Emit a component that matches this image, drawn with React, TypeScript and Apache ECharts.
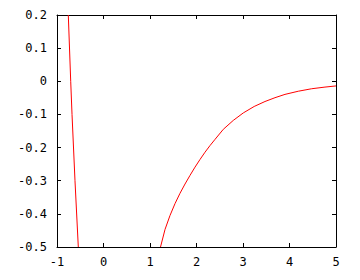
import React, { useEffect, useRef } from "react";
import * as echarts from "echarts";

const xTicks = { min: -1, max: 5, interval: 1 };
const yTicks = { min: -0.5, max: 0.2, interval: 0.1 };

const leftBranchX = [-0.757, -0.705, -0.677, -0.613, -0.542];
const leftBranchY = [0.2, 0.0, -0.1, -0.3, -0.5];

const rightBranchX = [1.226, 1.323, 1.43, 1.538, 1.645, 1.753, 1.86, 1.968, 2.075, 2.183, 2.29, 2.4, 2.576, 2.791, 3.006, 3.24, 3.473, 3.688, 3.903, 4.189, 4.477, 4.763, 5.0];
const rightBranchY = [-0.5, -0.447, -0.405, -0.369, -0.338, -0.31, -0.284, -0.259, -0.236, -0.214, -0.194, -0.175, -0.145, -0.118, -0.0955, -0.076, -0.061, -0.0495, -0.0395, -0.03, -0.0225, -0.0175, -0.014];

const zip = (xs: number[], ys: number[]) => xs.map((x, i) => [x, ys[i]]);

export default function App() {
  const ref = useRef<HTMLDivElement>(null);
  useEffect(() => {
    if (!ref.current) return;
    const chart = echarts.init(ref.current, undefined, { renderer: "svg" });
    const font = { fontFamily: "DejaVu Sans Mono", fontSize: 12, color: "#000" };
    const axisLine = { show: true, onZero: false, lineStyle: { color: "#000", width: 1 } };
    const tick = { show: true, inside: true, length: 4, lineStyle: { color: "#000", width: 1 } };
    const fmt = (v: number) => String(Math.round(v * 10) / 10);
    chart.setOption({
      animation: false,
      grid: { left: 57, right: 24, top: 15, bottom: 33 },
      xAxis: [
        {
          type: "value", ...xTicks, position: "bottom",
          axisLine, axisTick: tick, splitLine: { show: false },
          axisLabel: { ...font, margin: 9, formatter: fmt },
        },
        {
          type: "value", ...xTicks, position: "top",
          axisLine, axisTick: tick, splitLine: { show: false },
          axisLabel: { show: false },
        },
      ],
      yAxis: [
        {
          type: "value", ...yTicks, position: "left",
          axisLine, axisTick: tick, splitLine: { show: false },
          axisLabel: { ...font, margin: 10, formatter: fmt },
        },
        {
          type: "value", ...yTicks, position: "right",
          axisLine, axisTick: tick, splitLine: { show: false },
          axisLabel: { show: false },
        },
      ],
      series: [
        {
          type: "line", data: zip(leftBranchX, leftBranchY), showSymbol: false,
          lineStyle: { color: "#ff0000", width: 1 }, itemStyle: { color: "#ff0000" }, clip: true,
        },
        {
          type: "line", data: zip(rightBranchX, rightBranchY), showSymbol: false,
          lineStyle: { color: "#ff0000", width: 1 }, itemStyle: { color: "#ff0000" }, clip: true,
        },
      ],
    });
    return () => chart.dispose();
  }, []);
  return <div ref={ref} style={{ position: "fixed", left: 0, top: 0, width: 360, height: 280, background: "#fff" }} />;
}
